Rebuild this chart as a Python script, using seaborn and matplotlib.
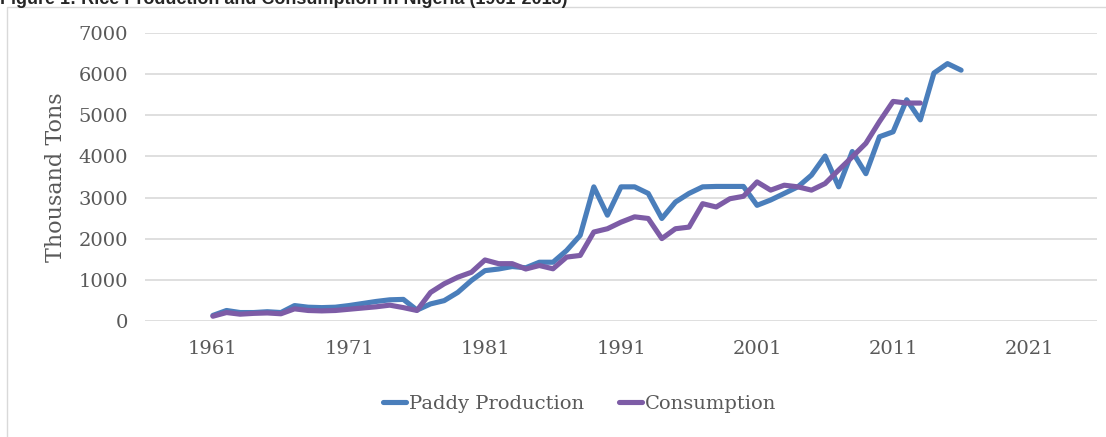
import numpy as np
import pandas as pd
import matplotlib
matplotlib.use("Agg")
import matplotlib.pyplot as plt
import seaborn as sns
from matplotlib.patches import Rectangle

# data (thousand tons)
prod_years = list(range(1961, 2017))
production = [130, 250, 200, 200, 220, 200, 370, 330, 320, 330,
              370, 420, 470, 510, 520, 260, 410, 490, 690, 980,
              1220, 1260, 1320, 1290, 1425, 1425, 1710, 2080, 3260, 2570,
              3260, 3260, 3100, 2490, 2890, 3100, 3260, 3270, 3270, 3270,
              2810, 2940, 3100, 3260, 3545, 4010, 3260, 4120, 3580, 4480,
              4600, 5380, 4890, 6030, 6260, 6100]

cons_years = list(range(1961, 2014))
consumption = [110, 200, 160, 180, 190, 170, 290, 250, 240, 250,
               280, 310, 340, 380, 320, 250, 690, 900, 1060, 1180,
               1480, 1390, 1390, 1260, 1345, 1265, 1550, 1590, 2160, 2240,
               2400, 2530, 2490, 2000, 2240, 2280, 2850, 2770, 2970, 3030,
               3380, 3180, 3300, 3260, 3180, 3340, 3670, 3990, 4320, 4850,
               5340, 5300, 5300]

x_ticks = [1961, 1971, 1981, 1991, 2001, 2011, 2021]
y_ticks = [0, 1000, 2000, 3000, 4000, 5000, 6000, 7000]

df = pd.concat([
    pd.DataFrame({"Year": prod_years, "Value": production, "Series": "Paddy Production"}),
    pd.DataFrame({"Year": cons_years, "Value": consumption, "Series": "Consumption"}),
])

sns.set_style("white")
plt.rcParams["font.family"] = ["DejaVu Serif"]

fig = plt.figure(figsize=(11.06, 4.37), dpi=100)
ax = fig.add_axes([0.131, 0.266, 0.861, 0.658])

sns.lineplot(data=df, x="Year", y="Value", hue="Series",
             palette={"Paddy Production": "#4a7ebb", "Consumption": "#7d5ca6"},
             linewidth=3.7, ax=ax, legend=True)

ax.set_xlim(1956, 2026)
ax.set_ylim(0, 7000)
ax.set_xticks(x_ticks)
ax.set_yticks(y_ticks)
ax.tick_params(axis="both", length=0, labelsize=14, labelcolor="#595959")
ax.tick_params(axis="x", pad=14)
ax.tick_params(axis="y", pad=12)
ax.yaxis.grid(True, color="#d9d9d9", linewidth=1.2)
ax.set_axisbelow(True)
for s in ax.spines.values():
    s.set_visible(False)
ax.set_xlabel("")
ax.set_ylabel("Thousand Tons", fontsize=16, color="#595959", labelpad=8)

handles, labels = ax.get_legend_handles_labels()
ax.get_legend().remove()
fig.legend(handles, labels, loc="center", bbox_to_anchor=(0.524, 0.076),
           ncol=2, frameon=False, fontsize=14, handlelength=1.2,
           handletextpad=0.15, columnspacing=1.8, labelcolor="#595959")

# chart frame and the clipped caption above it
fig.patches.append(Rectangle((7 / 1106, -0.1), 1.1, 1 - 7 / 437 + 0.1,
                             transform=fig.transFigure, fill=False,
                             edgecolor="#d9d9d9", linewidth=1.0))
fig.text(0.0, 1 - 4 / 437, "Figure 1: Rice Production and Consumption in Nigeria (1961-2013)",
         fontsize=13, fontweight="bold", family=["Liberation Sans"], va="baseline", ha="left")

fig.savefig("out.png", dpi=100)
